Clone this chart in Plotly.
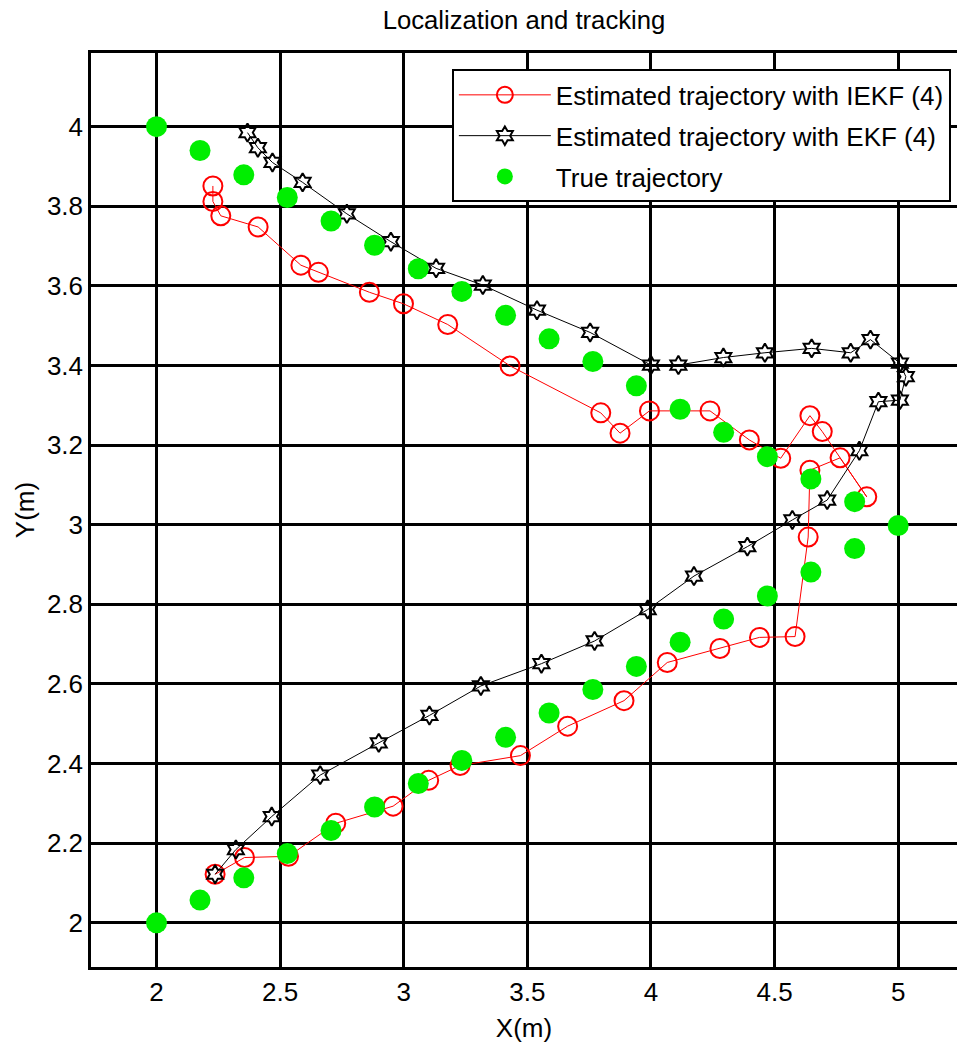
import plotly.graph_objects as go

# True trajectory
true_x = [2.0, 2.176, 2.353, 2.529, 2.706, 2.882, 3.059, 3.235, 3.412, 3.588,
          3.765, 3.941, 4.118, 4.294, 4.471, 4.647, 4.824, 5.0,
          4.824, 4.647, 4.471, 4.294, 4.118, 3.941, 3.765, 3.588, 3.412,
          3.235, 3.059, 2.882, 2.706, 2.529, 2.353, 2.176, 2.0]
true_y = [2.0, 2.057, 2.113, 2.174, 2.232, 2.291, 2.35, 2.408, 2.466, 2.527,
          2.586, 2.644, 2.705, 2.763, 2.821, 2.881, 2.94, 2.998,
          3.058, 3.115, 3.171, 3.232, 3.29, 3.349, 3.41, 3.467, 3.526,
          3.586, 3.643, 3.702, 3.763, 3.822, 3.879, 3.94, 4.0]

# IEKF estimate
iekf_x = [2.237, 2.356, 2.534, 2.725, 2.957, 3.101, 3.228, 3.472, 3.663, 3.891,
          4.066, 4.279, 4.439, 4.583, 4.636, 4.643, 4.765, 4.873, 4.693, 4.643,
          4.525, 4.398, 4.239, 3.994, 3.875, 3.797, 3.43, 3.178, 2.999, 2.861,
          2.655, 2.584, 2.411, 2.26, 2.228, 2.228]
iekf_y = [2.122, 2.164, 2.167, 2.25, 2.293, 2.358, 2.395, 2.42, 2.494, 2.558,
          2.654, 2.689, 2.717, 2.719, 2.969, 3.137, 3.168, 3.07, 3.234, 3.274,
          3.167, 3.213, 3.286, 3.286, 3.23, 3.281, 3.399, 3.503, 3.555, 3.584,
          3.634, 3.652, 3.748, 3.776, 3.812, 3.851]

# EKF estimate
ekf_x = [2.237, 2.321, 2.466, 2.662, 2.899, 3.104, 3.312, 3.557, 3.772, 3.987,
         4.174, 4.39, 4.572, 4.713, 4.843, 4.92, 5.007, 5.031, 5.007, 4.888,
         4.808, 4.65, 4.461, 4.293, 4.111, 4.0, 3.754, 3.539, 3.32, 3.131,
         2.948, 2.77, 2.591, 2.469, 2.41, 2.368]
ekf_y = [2.122, 2.184, 2.267, 2.371, 2.452, 2.521, 2.595, 2.651, 2.708, 2.787,
         2.871, 2.945, 3.012, 3.062, 3.186, 3.309, 3.313, 3.372, 3.406, 3.465,
         3.432, 3.443, 3.432, 3.42, 3.401, 3.401, 3.483, 3.539, 3.602, 3.644,
         3.711, 3.781, 3.86, 3.91, 3.947, 3.985]

x_ticks = [2, 2.5, 3, 3.5, 4, 4.5, 5]
x_tick_text = ["2", "2.5", "3", "3.5", "4", "4.5", "5"]
y_ticks = [2, 2.2, 2.4, 2.6, 2.8, 3, 3.2, 3.4, 3.6, 3.8, 4]
y_tick_text = ["2", "2.2", "2.4", "2.6", "2.8", "3", "3.2", "3.4", "3.6", "3.8", "4"]

FONT = "Arial, Liberation Sans, sans-serif"

fig = go.Figure()
fig.add_trace(go.Scatter(
    x=iekf_x, y=iekf_y, mode="lines+markers",
    name="Estimated trajectory with IEKF (4)", legendgroup="iekf",
    line=dict(color="#ff0000", width=1),
    marker=dict(symbol="circle-open", size=19, color="#ff0000",
                line=dict(color="#ff0000", width=2)),
))
fig.add_trace(go.Scatter(
    x=ekf_x, y=ekf_y, mode="lines+markers",
    name="Estimated trajectory with EKF (4)", legendgroup="ekf",
    line=dict(color="#000000", width=1),
    marker=dict(symbol="hexagram-open", size=14, color="#000000",
                line=dict(color="#000000", width=2)),
))
fig.add_trace(go.Scatter(
    x=true_x, y=true_y, mode="markers",
    name="True trajectory", legendgroup="true",
    marker=dict(symbol="circle", size=21, color="#00ee00",
                line=dict(width=0)),
))

fig.update_layout(
    width=957, height=1049,
    margin=dict(l=91, r=0, t=53, b=82, pad=0),
    paper_bgcolor="white", plot_bgcolor="white",
    font=dict(family=FONT, size=26, color="black"),
    title=dict(text="Localization and tracking", x=0.5, xref="paper",
               xanchor="center", y=1 - 20 / 1049, yref="container",
               yanchor="middle", font=dict(family=FONT, size=25.7, color="black")),
    showlegend=True,
    legend=dict(x=0.4167, y=0.982, xanchor="left", yanchor="top",
                bgcolor="white", bordercolor="black", borderwidth=2,
                font=dict(family=FONT, size=26, color="black"),
                itemwidth=92, tracegroupgap=4),
)
fig.update_xaxes(
    range=[1.735, 5.238], tickvals=x_ticks, ticktext=x_tick_text,
    showgrid=True, gridcolor="black", gridwidth=2.5,
    showline=True, linecolor="black", linewidth=2.5, mirror=True,
    zeroline=False, ticks="", ticklen=0,
    tickfont=dict(family=FONT, size=26, color="black"),
    title=dict(text="X(m)", standoff=13, font=dict(family=FONT, size=26, color="black")),
)
fig.update_yaxes(
    range=[1.889, 4.185], tickvals=y_ticks, ticktext=y_tick_text,
    showgrid=True, gridcolor="black", gridwidth=2.5,
    showline=True, linecolor="black", linewidth=2.5, mirror=False,
    zeroline=False, ticks="", ticklen=0,
    tickfont=dict(family=FONT, size=26, color="black"),
    title=dict(text="Y(m)", standoff=5, font=dict(family=FONT, size=26, color="black")),
)

fig.write_html("out.html", config={"displayModeBar": False},
               post_script="document.body.style.margin='0';")
